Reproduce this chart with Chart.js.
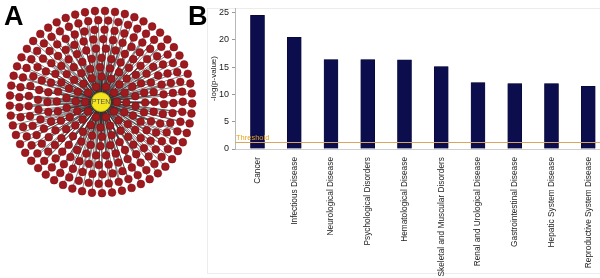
<!DOCTYPE html>
<html><head><meta charset="utf-8">
<script src="https://cdn.jsdelivr.net/npm/chart.js@4"></script>
<style>
html,body{margin:0;padding:0;width:600px;height:278px;overflow:hidden;background:#fff;}
#a{position:absolute;left:0;top:0;width:202px;height:204px;}
#b{position:absolute;left:207px;top:0;width:393px;height:278px;}
.frame{position:absolute;left:207px;top:8px;width:400px;height:266px;border:1px solid #ececec;box-sizing:border-box;}
.lab{position:absolute;font:bold 27px 'Liberation Sans',Arial,sans-serif;line-height:27px;color:#000;}
</style></head><body>
<div class="frame"></div>
<div id="a"><canvas id="ca"></canvas></div>
<div id="b"><canvas id="cb"></canvas></div>
<div class="lab" style="left:4px;top:3px">A</div>
<div class="lab" style="left:188px;top:3px">B</div>
<script>
// ---- Panel A: PTEN interaction network ----
const hubName = 'PTEN';
const ringNodeCounts = [10, 16, 22, 28, 34, 40, 45, 51, 57];

// ---- Panel B: disease enrichment ----
const categories = ['Cancer','Infectious Disease','Neurological Disease','Psychological Disorders','Hematological Disease','Skeletal and Muscular Disorders','Renal and Urological Disease','Gastrointestinal Disease','Hepatic System Disease','Reproductive System Disease'];
const negLogP = [24.5, 20.5, 16.4, 16.4, 16.35, 15.1, 12.2, 12.0, 12.0, 11.5];
const yTickValues = [0, 5, 10, 15, 20, 25];
const thresholdValue = 1.3;
const thresholdLabel = 'Threshold';
const yTitle = '-log(p-value)';

Chart.defaults.font.family = "'Liberation Sans', Arial, sans-serif";
Chart.defaults.animation = false;

// Network layout (concentric rings around hub)
const hub = {x: 0, y: 0};
const nodes = [];
ringNodeCounts.forEach((n, k) => {
  const level = k + 1.7;
  const off = k * 0.37;
  for (let j = 0; j < n; j++) {
    const a = off + 2 * Math.PI * j / n;
    nodes.push({x: level * Math.cos(a), y: level * Math.sin(a)});
  }
});
const spokes = [];
nodes.forEach(p => { spokes.push({x: hub.x, y: hub.y}); spokes.push(p); spokes.push({x: p.x, y: null}); });

const hubLabel = {
  id: 'hubLabel',
  afterDatasetsDraw(chart) {
    const {ctx, scales: {x, y}} = chart;
    ctx.save();
    ctx.font = "7px 'Liberation Sans', Arial, sans-serif";
    ctx.fillStyle = '#555';
    ctx.textAlign = 'center'; ctx.textBaseline = 'middle';
    ctx.fillText(hubName, x.getPixelForValue(hub.x), y.getPixelForValue(hub.y) + 0.5);
    ctx.restore();
  }
};

new Chart(document.getElementById('ca'), {
  type: 'scatter',
  data: {datasets: [
    {type: 'line', data: spokes, showLine: true, spanGaps: false, pointRadius: 0, borderColor: 'rgba(45,45,45,0.75)', borderWidth: 0.8, order: 3},
    {data: nodes, pointRadius: 3.9, backgroundColor: '#9e1a1e', borderColor: '#741014', borderWidth: 0.5, order: 2},
    {data: [hub], pointRadius: 9.5, backgroundColor: '#f4e51c', borderColor: '#cbbd10', borderWidth: 0.8, order: 1}
  ]},
  options: {
    responsive: true, maintainAspectRatio: false,
    layout: {padding: 0, autoPadding: false},
    plugins: {legend: {display: false}, tooltip: {enabled: false}},
    scales: {
      x: {type: 'linear', min: -10.74, max: 10.74, display: false},
      y: {type: 'linear', min: -10.85, max: 10.85, display: false}
    }
  },
  plugins: [hubLabel]
});

const thresholdPlugin = {
  id: 'threshold',
  afterDatasetsDraw(chart) {
    const {ctx, chartArea, scales: {y}} = chart;
    const py = Math.round(y.getPixelForValue(thresholdValue)) + 0.5;
    ctx.save();
    ctx.strokeStyle = '#d9a560'; ctx.lineWidth = 1;
    ctx.beginPath(); ctx.moveTo(chartArea.left, py); ctx.lineTo(chartArea.right, py); ctx.stroke();
    ctx.font = "7.5px 'Liberation Sans', Arial, sans-serif";
    ctx.fillStyle = '#e8a21a';
    ctx.textAlign = 'left'; ctx.textBaseline = 'bottom';
    ctx.fillText(thresholdLabel, chartArea.left + 1, py - 1);
    ctx.restore();
  }
};

new Chart(document.getElementById('cb'), {
  type: 'bar',
  data: {datasets: [{
    data: negLogP.map((v, i) => ({x: i, y: v})),
    backgroundColor: '#0b0d4c', borderColor: '#05062e', borderWidth: 0.5,
    barThickness: 14
  }]},
  options: {
    responsive: true, maintainAspectRatio: false,
    layout: {padding: {top: 8, right: 0, left: 0, bottom: 0}},
    plugins: {legend: {display: false}, tooltip: {enabled: false}},
    scales: {
      x: {
        type: 'linear', min: -0.612, max: 9.32, offset: false,
        afterBuildTicks: s => { s.ticks = categories.map((c, i) => ({value: i})); },
        afterFit: s => { s.height = 129; s.paddingLeft = 0; s.paddingRight = 0; },
        ticks: {callback: v => categories[v], autoSkip: false, minRotation: 90, maxRotation: 90, padding: 0, color: '#222', font: {size: 8.3}},
        grid: {display: false, offset: false},
        border: {display: true, color: '#cfcfcf', width: 1}
      },
      y: {
        min: 0, max: 25.86,
        afterBuildTicks: s => { s.ticks = yTickValues.map(v => ({value: v})); },
        afterFit: s => { s.width = 28; s.paddingTop = 0; s.paddingBottom = 0; },
        ticks: {color: '#222', font: {size: 9}, padding: 3},
        grid: {drawOnChartArea: false, drawTicks: true, tickLength: 3, tickColor: '#999'},
        border: {display: true, color: '#b8b8b8', width: 1},
        title: {display: true, text: yTitle, color: '#222', font: {size: 8}, padding: {top: 2, bottom: 0}}
      }
    }
  },
  plugins: [thresholdPlugin]
});
</script>
</body></html>
